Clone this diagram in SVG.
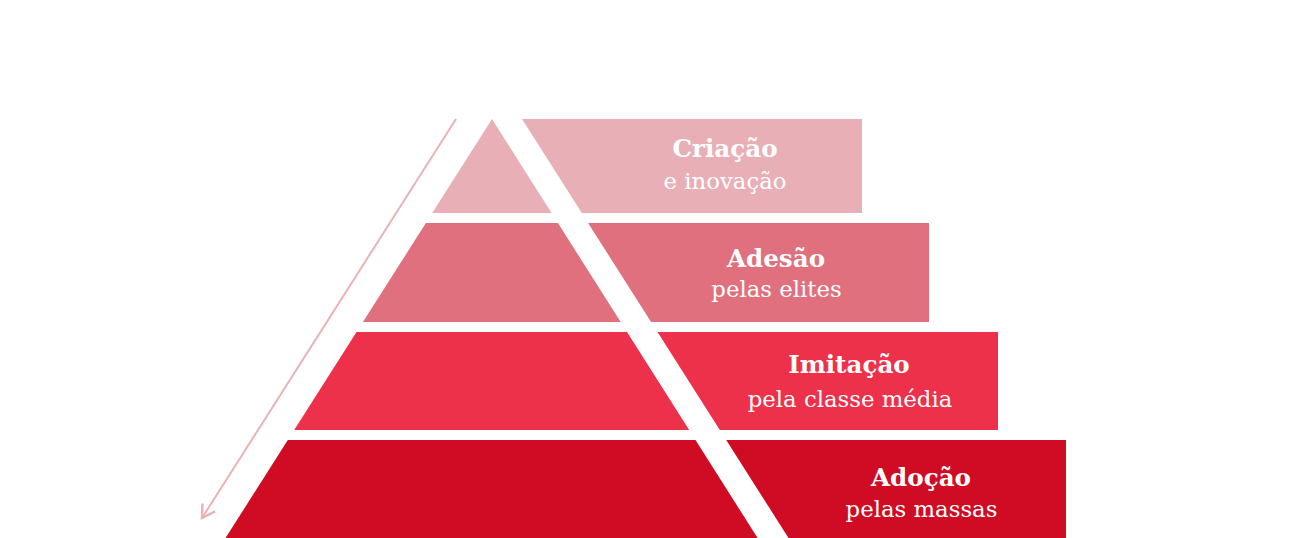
<svg xmlns="http://www.w3.org/2000/svg" width="1292" height="538" viewBox="0 0 1292 538">
<style>
.t1{font-family:"DejaVu Serif","Liberation Serif",serif;font-weight:bold;font-size:24.6px;fill:#ffffff;text-anchor:middle}
.t2{font-family:"DejaVu Serif","Liberation Serif",serif;font-size:22.8px;fill:#ffffff;text-anchor:middle}
.c1{fill:#e8b0b6}
.c2{fill:#e0707e}
.c3{fill:#ee314b}
.c4{fill:#cf0c24}
.arrow{stroke:#e8b4b8;stroke-width:2;fill:none}
</style>
<defs>
<marker id="ah" markerUnits="userSpaceOnUse" markerWidth="20" markerHeight="20" viewBox="-12 -8 14 16" refX="0" refY="0" orient="auto">
<path d="M-10,-6 L0,0 L-10,6" fill="none" stroke="#e8b4b8" stroke-width="2"/>
</marker>
</defs>
<rect width="1292" height="538" fill="#ffffff"/>
<g id="connectors">
<line class="arrow" x1="456" y1="119" x2="202" y2="518" marker-end="url(#ah)"/>
</g>
<g id="criacao">
<polygon class="c1" points="492,119 432.2,213 551.6,213"/>
<polygon class="c1" points="522,119 862,119 862,213 581.8,213"/>
<text class="t1" x="725" y="157">Criação</text>
<text class="t2" x="725" y="189">e inovação</text>
</g>
<g id="adesao">
<polygon class="c2" points="425.9,223 557.9,223 620.7,322 362.9,322"/>
<polygon class="c2" points="588.1,223 929,223 929,322 651.1,322"/>
<text class="t1" x="776" y="267">Adesão</text>
<text class="t2" x="776.5" y="297">pelas elites</text>
</g>
<g id="imitacao">
<polygon class="c3" points="356.5,332 627,332 689.2,430 294.2,430"/>
<polygon class="c3" points="657.5,332 998,332 998,430 719.8,430"/>
<text class="t1" x="849" y="373">Imitação</text>
<text class="t2" x="850" y="407">pela classe média</text>
</g>
<g id="adocao">
<polygon class="c4" points="287.8,440 695.5,440 757.6,538 225.5,538"/>
<polygon class="c4" points="726.2,440 1066,440 1066,538 788.5,538"/>
<text class="t1" x="921" y="486">Adoção</text>
<text class="t2" x="921.5" y="517">pelas massas</text>
</g>
</svg>
